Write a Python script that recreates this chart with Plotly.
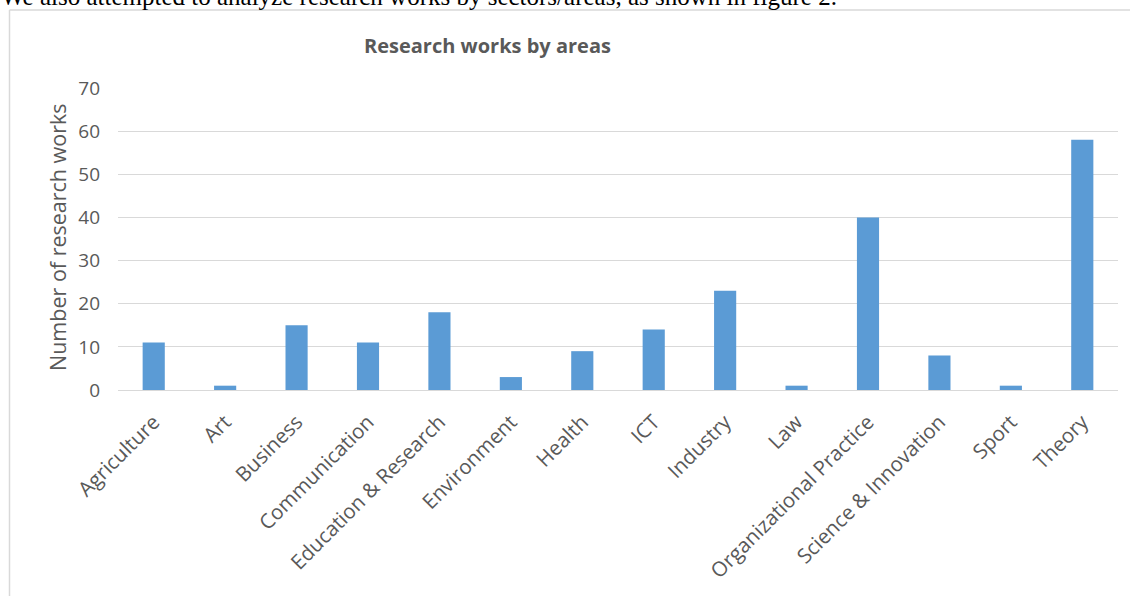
import plotly.graph_objects as go

categories = ["Agriculture", "Art", "Business", "Communication", "Education & Research",
              "Environment", "Health", "ICT", "Industry", "Law",
              "Organizational Practice", "Science & Innovation", "Sport", "Theory"]
values = [11, 1, 15, 11, 18, 3, 9, 14, 23, 1, 40, 8, 1, 58]
y_ticks = [0, 10, 20, 30, 40, 50, 60, 70]

W, H = 1130, 596
L, R, T, B = 118, 12, 88, 206
pw, ph = W - L - R, H - T - B

def px(x):
    return (x - L) / pw

def py(y):
    return (H - B - y) / ph

fig = go.Figure()
fig.add_trace(go.Bar(x=categories, y=values, marker=dict(color="#5B9BD5", line=dict(width=0)),
                     hoverinfo="x+y"))

txt = "#595959"
fig.update_layout(
    width=W, height=H,
    margin=dict(l=L, r=R, t=T, b=B, pad=0),
    paper_bgcolor="white", plot_bgcolor="white",
    bargap=0.69,
    showlegend=False,
    font=dict(family="Open Sans", color=txt),
    xaxis=dict(tickangle=-45, tickfont=dict(size=20.5, color=txt), showgrid=False,
               showline=True, linecolor="#D9D9D9", linewidth=1, ticks="",
               ticklabelstandoff=11, fixedrange=True),
    yaxis=dict(range=[0, 70], tickvals=y_ticks, tickfont=dict(size=19, color=txt),
               showgrid=True, gridcolor="#D9D9D9", gridwidth=1, zeroline=False,
               showline=False, ticks="", ticklabelstandoff=17, fixedrange=True),
    shapes=[
        dict(type="line", xref="paper", yref="paper", x0=px(9.5), x1=px(1135),
             y0=py(10), y1=py(10), line=dict(color="#D9D9D9", width=1.5)),
        dict(type="line", xref="paper", yref="paper", x0=px(9.5), x1=px(9.5),
             y0=py(10), y1=py(600), line=dict(color="#D9D9D9", width=1.5)),
    ],
    annotations=[
        dict(text="<b>Research works by areas</b>", xref="paper", yref="paper",
             x=px(487), y=py(45), xanchor="center", yanchor="middle", showarrow=False,
             font=dict(size=20, color=txt, family="Open Sans")),
        dict(text="Number of research works", xref="paper", yref="paper",
             x=px(57), y=py(237), xanchor="center", yanchor="middle", showarrow=False,
             textangle=-90, font=dict(size=21.5, color=txt, family="Open Sans")),
        dict(text="We also attempted to analyze research works by sectors/areas, as shown in figure 2.",
             xref="paper", yref="paper", x=px(-1), y=py(12), xanchor="left", yanchor="bottom",
             showarrow=False, font=dict(size=25, color="black", family="Liberation Serif")),
    ],
)

fig.write_html("out.html")
